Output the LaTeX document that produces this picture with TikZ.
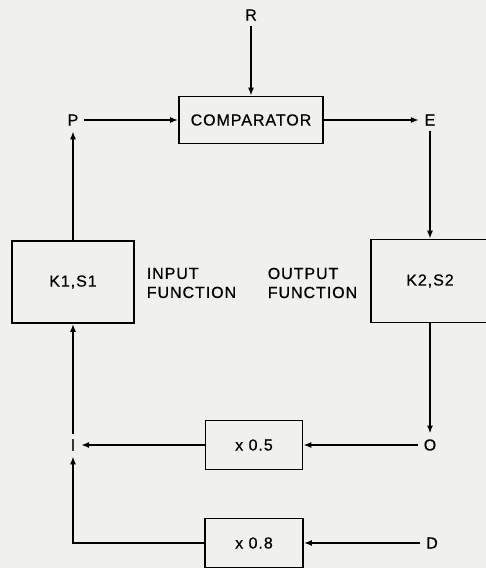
\documentclass[tikz,border=0pt]{standalone}
\usepackage{fontspec}
\setmainfont[LetterSpace=6, FakeBold=0.6]{Liberation Sans}
\usetikzlibrary{arrows.meta}
\definecolor{papel}{RGB}{240,240,237}

\begin{document}
\begin{tikzpicture}[x=1pt, y=-1pt, line width=1.6pt,
    bloque/.style={draw, inner sep=0pt},
    senal/.style={inner sep=5pt},
    flecha/.style={-{Latex[length=8pt,width=6pt]}},
    font=\fontsize{16}{19}\selectfont]
        \useasboundingbox (0,0) rectangle (486,568);
        \fill[papel] (0,0) rectangle (486,568);
        % Bloques
        \node[bloque, minimum width=144pt, minimum height=47pt] (comp) at (251,120) {COMPARATOR};
        \node[bloque, minimum width=122pt, minimum height=82pt] (k1) at (73,282) {K1,S1};
        \node[bloque, minimum width=118pt, minimum height=83pt] (k2) at (430,281) {K2,S2};
        \node[bloque, minimum width=97pt, minimum height=49pt] (x05) at (254,445) {x 0.5};
        \node[bloque, minimum width=98pt, minimum height=49pt] (x08) at (254,543) {x 0.8};
        % Textos
        \node[align=left, anchor=west, inner sep=0pt] (inp) at (146,283) {INPUT\\FUNCTION};
        \node[align=left, anchor=west, inner sep=0pt] (outp) at (267,283) {OUTPUT\\FUNCTION};
        % Senales
        \node[senal] (r) at (251,15) {R};
        \node[senal] (p) at (73,120) {P};
        \node[senal] (e) at (430,120) {E};
        \node[senal] (o) at (430,445) {O};
        \node[senal] (i) at (73,445) {I};
        \node[senal] (d) at (432,543) {D};
        % Conexiones
        \draw[flecha] (r) -- (comp);
        \draw[flecha] (p) -- (comp);
        \draw[flecha] (comp) -- (e);
        \draw[flecha] (e) -- (k2);
        \draw[flecha] (k2) -- (o);
        \draw[flecha] (o) -- (x05);
        \draw[flecha] (x05) -- (i);
        \draw[flecha] (d) -- (x08);
        \draw[flecha] (x08.west) -| (i);
        \draw[flecha] (i) -- (k1);
        \draw[flecha] (k1) -- (p);
    \end{tikzpicture}
\end{document}
